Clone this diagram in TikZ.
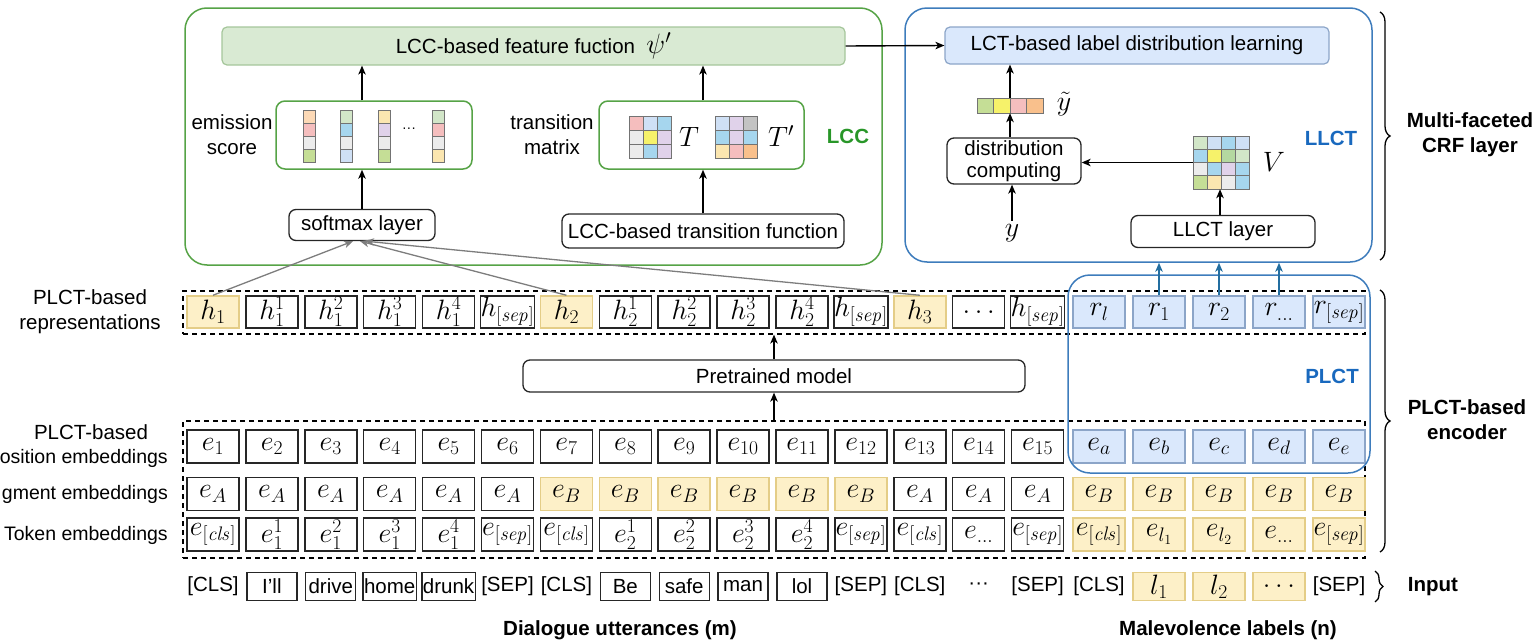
\RequirePackage{fix-cm}
\documentclass[tikz,border=0pt]{standalone}
\usepackage[no-math]{fontspec}
\setmainfont{Liberation Sans}
\usetikzlibrary{arrows.meta,decorations.pathreplacing,calc}

\definecolor{gbord}{RGB}{86,163,70}
\definecolor{gtext}{RGB}{40,150,40}
\definecolor{gfill}{RGB}{217,234,211}
\definecolor{gfbord}{RGB}{165,198,155}
\definecolor{bbord}{RGB}{62,124,188}
\definecolor{btext}{RGB}{25,105,190}
\definecolor{bfill}{RGB}{218,232,252}
\definecolor{bcbord}{RGB}{140,165,200}
\definecolor{yfill}{RGB}{253,240,200}
\definecolor{ybord}{RGB}{228,205,135}
\definecolor{arrgray}{RGB}{125,125,125}
\definecolor{arrblue}{RGB}{35,110,160}
\definecolor{cpink}{RGB}{245,190,190}
\definecolor{clblue}{RGB}{207,224,245}
\definecolor{cblue}{RGB}{166,214,238}
\definecolor{cgray}{RGB}{236,236,236}
\definecolor{cyel}{RGB}{246,242,106}
\definecolor{clav}{RGB}{224,210,234}
\definecolor{clyel}{RGB}{251,230,176}
\definecolor{corange}{RGB}{249,192,140}
\definecolor{cgreen}{RGB}{197,222,150}
\definecolor{cmgreen}{RGB}{180,216,160}
\definecolor{clgreen}{RGB}{210,230,200}
\definecolor{corgl}{RGB}{252,217,182}
\definecolor{cdgray}{RGB}{195,195,195}

\newcommand{\txtsize}{\fontsize{20.5}{25}\selectfont}
\newcommand{\lblsize}{\fontsize{19.5}{24}\selectfont}
\newcommand{\mathsize}{\fontsize{28}{32}\selectfont}

% #1 x0, #2 y0, #3 ncols, #4 w, #5 h, #6 colours
\newcommand{\cellgrid}[6]{%
  \foreach \cc [count=\k from 0] in {#6} {
    \pgfmathtruncatemacro\gcol{mod(\k,#3)}
    \pgfmathtruncatemacro\grow{div(\k,#3)}
    \filldraw[fill=\cc, draw=black!55, line width=0.8]
      ({#1+\gcol*#4},{#2+\grow*#5}) rectangle ++(#4,#5);
  }}

\tikzset{
  arr/.style={-{Stealth[length=9pt,width=7.5pt,inset=2.5pt]}, line width=1.4},
  garr/.style={arr, draw=arrgray, line width=1.3},
  barr/.style={arr, draw=arrblue, line width=1.5},
  bigbox/.style={draw, rounded corners=22, line width=1.5, inner sep=0},
  plainbox/.style={draw=black!85, rounded corners=7, line width=1.3, inner sep=0, align=center},
  cellbase/.style={minimum width=52, minimum height=33, inner sep=0, font=\mathsize, line width=1.5},
  wcell/.style={cellbase, draw=black!85},
  ycell/.style={cellbase, draw=ybord, fill=yfill},
  bcell/.style={cellbase, draw=bcbord, fill=bfill},
  dashbox/.style={draw, dash pattern=on 5pt off 4pt, line width=1.2, inner sep=0},
  inbox/.style={draw=black!85, line width=1.3, minimum width=50, minimum height=28, inner sep=1},
  inyel/.style={draw=ybord, fill=yfill, line width=1.2, minimum width=52, minimum height=28, inner sep=0, font=\mathsize},
  plaintext/.style={},
  bracestyle/.style={decorate, decoration={brace, amplitude=10pt}, line width=1.3},
  bracesmall/.style={decorate, decoration={brace, amplitude=8pt}, line width=1.3},
  boldlab/.style={font=\txtsize\bfseries, align=center}
}

\begin{document}
\begin{tikzpicture}[x=1pt, y=-1pt, font=\txtsize]
\useasboundingbox (0,0) rectangle (1537,640);

% ---------------- LCC part ----------------
\node[bigbox, draw=gbord, minimum width=697, minimum height=257] (lcc) at (533.5,136.5) {};
\node[draw=gfbord, fill=gfill, rounded corners=5, line width=1.2, minimum width=623, minimum height=38, inner sep=0] (fb) at (533.5,46)
  {LCC-based feature fuction \ {\mathsize$\psi'$}};
\node[draw=gbord, rounded corners=9, line width=1.5, minimum width=196, minimum height=68, inner sep=0] (em) at (374,135) {};
\node[draw=gbord, rounded corners=9, line width=1.5, minimum width=205, minimum height=68, inner sep=0] (tm) at (701.5,135) {};
\node[align=center] (emlab) at (232,135) {emission\\score};
\node[align=center] (tmlab) at (552,135) {transition\\matrix};
\node[boldlab, text=gtext] (lcclab) at (848,136) {LCC};
\node[plainbox, minimum width=146, minimum height=31] (sm) at (362,225) {softmax layer};
\node[plainbox, minimum width=282, minimum height=34] (ltf) at (703,231) {LCC-based transition function};

% emission strips
\cellgrid{303}{110}{1}{12.5}{13}{corgl,cpink,cgray,cgreen}
\cellgrid{340}{110}{1}{12.5}{13}{clgreen,cblue,cgray,clblue}
\cellgrid{378}{110}{1}{12.5}{13}{clyel,clav,cgray,cgreen}
\cellgrid{432}{110}{1}{12.5}{13}{clgreen,cpink,cgray,clyel}
\node (emdots) at (409,130) {\fontsize{14}{14}\selectfont ···};

% transition matrices
\cellgrid{629}{116}{3}{14}{14}{cpink,clblue,cblue,cgray,cyel,clav,cgray,cblue,clav}
\node[font=\mathsize] (tlab) at (689,137) {$T$};
\cellgrid{715}{116}{3}{14}{14}{clblue,clav,cdgray,cblue,clav,cblue,clyel,cpink,corange}
\node[font=\mathsize] (tplab) at (781,136) {$T'$};

\draw[arr] (sm.north) -- (sm.north |- em.south);
\draw[arr] (sm.north |- em.north) -- (sm.north |- fb.south);
\draw[arr] (ltf.north) -- (ltf.north |- tm.south);
\draw[arr] (ltf.north |- tm.north) -- (ltf.north |- fb.south);

% ---------------- LLCT part ----------------
\node[bigbox, draw=bbord, minimum width=467, minimum height=254] (llct) at (1138.5,135) {};
\node[draw=bcbord, fill=bfill, rounded corners=5, line width=1.2, minimum width=384, minimum height=37, inner sep=0] (lct) at (1137,45.5)
  {LCT-based label distribution learning};
\cellgrid{977}{98}{4}{16.5}{15}{cgreen,cyel,cpink,corange}
\node[minimum width=66, minimum height=15, inner sep=0] (yv) at (1010,105.5) {};
\node[font=\mathsize] (ytl) at (1064,104) {$\tilde{y}$};
\node[plainbox, minimum width=134, minimum height=46] (dc) at (1014,161) {distribution\\[-3pt]computing};
\node[font=\mathsize] (ylab) at (1012,233) {$y$};
\cellgrid{1193}{136}{4}{14}{13.25}{clgreen,clblue,cblue,clblue,cblue,cyel,cmgreen,clgreen,cgray,cblue,clav,cblue,cgreen,clyel,cgray,cblue}
\node[minimum width=56, minimum height=53, inner sep=0] (vm) at (1221,162.5) {};
\node[font=\mathsize] (vlab) at (1274,162) {$V$};
\node[plainbox, minimum width=184, minimum height=32] (ll) at (1223,231.5) {LLCT layer};
\node[boldlab, text=btext] (llctlab) at (1331,138) {LLCT};

\draw[arr] (fb.east) -- (lct.west);
\draw[arr] (yv.north) -- (yv.north |- lct.south);
\draw[arr] (yv.south |- dc.north) -- (yv.south);
\draw[arr] (ylab.north) -- (ylab.north |- dc.south);
\draw[arr] (vm.west) -- (vm.west -| dc.east);
\draw[arr] ([xshift=-1pt]vm.south |- ll.north) -- ([xshift=-1pt]vm.south);

% ---------------- encoder ----------------
\node[dashbox, minimum width=1182, minimum height=43] (hbox) at (774,312.5) {};
\node[dashbox, minimum width=1182, minimum height=137] (ebox) at (774,489.5) {};
\node[plainbox, minimum width=502, minimum height=32] (pm) at (774,376) {Pretrained model};
\draw[arr] (pm.south |- ebox.north) -- (pm.south);
\draw[arr] (pm.north) -- (pm.north |- hbox.south);

% h row
\foreach \sty/\lab [count=\i] in {ycell/h_1, wcell/h_1^1, wcell/h_1^2, wcell/h_1^3, wcell/h_1^4, wcell/h_{[\mathit{sep}]},
  ycell/h_2, wcell/h_2^1, wcell/h_2^2, wcell/h_2^3, wcell/h_2^4, wcell/h_{[\mathit{sep}]},
  ycell/h_3, wcell/\dots, wcell/h_{[\mathit{sep}]},
  bcell/r_l, bcell/r_1, bcell/r_2, bcell/r_{\dots}, bcell/r_{[\mathit{sep}]}} {
  \pgfmathsetmacro\xx{\i<16 ? 213+58.9*(\i-1) : 1099+60*(\i-16)}
  \node[\sty, minimum height=32] (h\i) at (\xx,312) {$\lab$};
}
% position row
\foreach \sty/\lab [count=\i] in {wcell/e_1, wcell/e_2, wcell/e_3, wcell/e_4, wcell/e_5, wcell/e_6, wcell/e_7, wcell/e_8,
  wcell/e_9, wcell/e_{10}, wcell/e_{11}, wcell/e_{12}, wcell/e_{13}, wcell/e_{14}, wcell/e_{15},
  bcell/e_a, bcell/e_b, bcell/e_c, bcell/e_d, bcell/e_e} {
  \pgfmathsetmacro\xx{\i<16 ? 213+58.9*(\i-1) : 1099+60*(\i-16)}
  \node[\sty] (p\i) at (\xx,446.5) {$\lab$};
}
% segment row
\foreach \sty/\lab [count=\i] in {wcell/e_A, wcell/e_A, wcell/e_A, wcell/e_A, wcell/e_A, wcell/e_A,
  ycell/e_B, ycell/e_B, ycell/e_B, ycell/e_B, ycell/e_B, ycell/e_B,
  wcell/e_A, wcell/e_A, wcell/e_A,
  ycell/e_B, ycell/e_B, ycell/e_B, ycell/e_B, ycell/e_B} {
  \pgfmathsetmacro\xx{\i<16 ? 213+58.9*(\i-1) : 1099+60*(\i-16)}
  \node[\sty] (s\i) at (\xx,494) {$\lab$};
}
% token row
\foreach \sty/\lab [count=\i] in {wcell/e_{[\mathit{cls}]}, wcell/e_1^1, wcell/e_1^2, wcell/e_1^3, wcell/e_1^4, wcell/e_{[\mathit{sep}]},
  wcell/e_{[\mathit{cls}]}, wcell/e_2^1, wcell/e_2^2, wcell/e_2^3, wcell/e_2^4, wcell/e_{[\mathit{sep}]},
  wcell/e_{[\mathit{cls}]}, wcell/e_{\dots}, wcell/e_{[\mathit{sep}]},
  ycell/e_{[\mathit{cls}]}, ycell/e_{l_1}, ycell/e_{l_2}, ycell/e_{\dots}, ycell/e_{[\mathit{sep}]}} {
  \pgfmathsetmacro\xx{\i<16 ? 213+58.9*(\i-1) : 1099+60*(\i-16)}
  \node[\sty] (t\i) at (\xx,534.5) {$\lab$};
}

% PLCT box
\node[bigbox, draw=bbord, minimum width=302, minimum height=198] (plct) at (1219,374) {};
\node[boldlab, text=btext] (plctlab) at (1332,376) {PLCT};

% arrows from representations
\draw[garr] (h1.north) -- ([xshift=-9pt]sm.south);
\draw[garr] (h7.north) -- ([xshift=-2pt]sm.south);
\draw[garr] (h13.north) -- ([xshift=3pt]sm.south);
\draw[barr] (h17.north) -- (h17.north |- llct.south);
\draw[barr] (h18.north) -- (h18.north |- llct.south);
\draw[barr] (h19.north) -- (h19.north |- llct.south);

% input row
\foreach \sty/\lab [count=\i] in {plaintext/[CLS], inbox/I'll, inbox/drive, inbox/home, inbox/drunk, plaintext/[SEP],
  plaintext/[CLS], inbox/Be, inbox/safe, inbox/man, inbox/lol, plaintext/[SEP], plaintext/[CLS], plaintext/···, plaintext/[SEP],
  plaintext/[CLS], inyel/$l_1$, inyel/$l_2$, inyel/$\dots$, plaintext/[SEP]} {
  \pgfmathsetmacro\xx{\i<16 ? 213+58.9*(\i-1) : 1099+60*(\i-16)}
  \node[\sty, inner sep=1] (in\i) at (\xx,586.5) {\lab};
}

% left labels
\node[align=center] (lrep) at (90,312) {PLCT-based\\representations};
\node (lpos1) at (91,432) {PLCT-based};
\node[anchor=east, inner sep=0, font=\lblsize] (lpos2) at (168,458) {osition embeddings};
\node[anchor=east, inner sep=0, font=\lblsize] (lseg) at (168,494) {gment embeddings};
\node[anchor=east, inner sep=0, font=\lblsize] (ltok) at (168,535) {Token embeddings};

% bottom labels
\node[boldlab] (dlg) at (620,630) {Dialogue utterances (m)};
\node[boldlab] (mal) at (1228,630) {Malevolence labels (n)};

% braces
\draw[bracestyle] (1380,12) -- (1380,260);
\node[boldlab] (crf) at (1470,135) {Multi-faceted\\CRF layer};
\draw[bracestyle] (1380,290) -- (1380,552);
\node[boldlab] (enc) at (1467,420) {PLCT-based\\encoder};
\draw[bracesmall] (1375,571) -- (1375,602);
\node[boldlab] (inp) at (1433,587) {Input};
\end{tikzpicture}
\end{document}
